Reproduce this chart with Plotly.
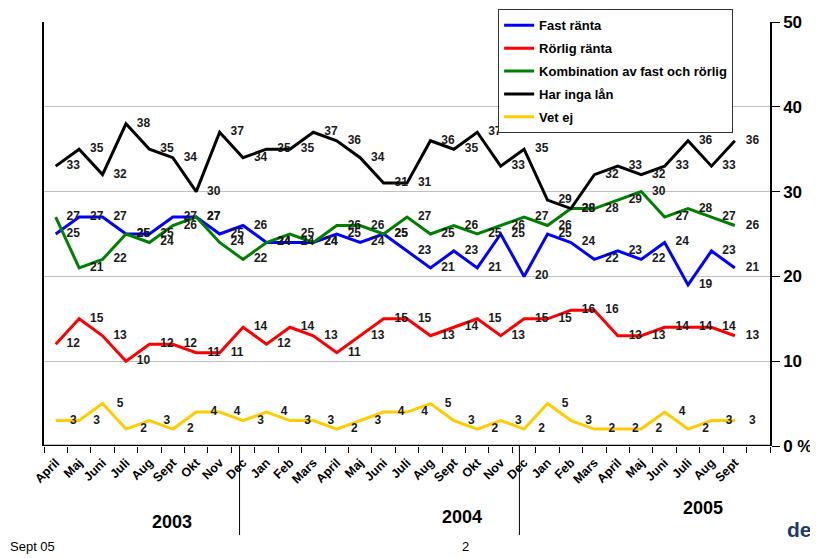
import plotly.graph_objects as go

months = ["April", "Maj", "Juni", "Juli", "Aug", "Sept", "Okt", "Nov", "Dec",
          "Jan", "Feb", "Mars", "April", "Maj", "Juni", "Juli", "Aug", "Sept", "Okt", "Nov", "Dec",
          "Jan", "Feb", "Mars", "April", "Maj", "Juni", "Juli", "Aug", "Sept"]

fast = [25, 27, 27, 25, 25, 27, 27, 25, 26, 24, 24, 24, 25, 24, 25, 23, 21, 23, 21, 25,
        20, 25, 24, 22, 23, 22, 24, 19, 23, 21]
rorlig = [12, 15, 13, 10, 12, 12, 11, 11, 14, 12, 14, 13, 11, 13, 15, 15, 13, 14, 15, 13,
          15, 15, 16, 16, 13, 13, 14, 14, 14, 13]
kombination = [27, 21, 22, 25, 24, 26, 27, 24, 22, 24, 25, 24, 26, 26, 25, 27, 25, 26, 25, 26,
               27, 26, 28, 28, 29, 30, 27, 28, 27, 26]
inga_lan = [33, 35, 32, 38, 35, 34, 30, 37, 34, 35, 35, 37, 36, 34, 31, 31, 36, 35, 37, 33,
            35, 29, 28, 32, 33, 32, 33, 36, 33, 36]
vet_ej = [3, 3, 5, 2, 3, 2, 4, 4, 3, 4, 3, 3, 2, 3, 4, 4, 5, 3, 2, 3,
          2, 5, 3, 2, 2, 2, 4, 2, 3, 3]

series = [
    ("Fast ränta", fast, "#0000ff"),
    ("Rörlig ränta", rorlig, "#ff0000"),
    ("Kombination av fast och rörlig", kombination, "#008000"),
    ("Har inga lån", inga_lan, "#000000"),
    ("Vet ej", vet_ej, "#ffcc00"),
]

years = ["2003", "2004", "2005"]
y_ticks = [0, 10, 20, 30, 40, 50]
y_ticktext = ["0 %", "10", "20", "30", "40", "50"]

FONT = "Arial, Liberation Sans, sans-serif"
x = list(range(len(months)))
label_offset = 0.75

fig = go.Figure()
for i, (name, vals, color) in enumerate(series):
    fig.add_trace(go.Scatter(
        x=x, y=vals, mode="lines", name=name, legendgroup=f"g{i}",
        line=dict(color=color, width=3),
    ))
for i, (name, vals, color) in enumerate(series):
    fig.add_trace(go.Scatter(
        x=[v + label_offset for v in x], y=vals, mode="text",
        text=[str(v) for v in vals], textposition="middle center",
        textfont=dict(family=FONT, size=12, color="#1a1a1a", weight="bold"),
        showlegend=False, hoverinfo="skip", cliponaxis=False,
    ))

# page body has an 8px margin: size the figure to fit the window exactly
fig.update_layout(
    width=810, height=550,
    margin=dict(l=36, r=48, t=14, b=112, autoexpand=False),
    paper_bgcolor="white", plot_bgcolor="white",
    font=dict(family=FONT, color="black"),
    showlegend=True,
    legend=dict(
        x=0.6255, y=1.03, xanchor="left", yanchor="top",
        bgcolor="white", bordercolor="#333333", borderwidth=1,
        font=dict(family=FONT, size=13, color="black", weight="bold"),
        tracegroupgap=3, itemwidth=30,
    ),
    xaxis=dict(
        range=[-0.5, 30.5], tickmode="array", tickvals=x, ticktext=months,
        tickangle=-45, ticks="", showgrid=False, zeroline=False,
        showline=False, automargin=False, ticklabelstandoff=6,
        tickfont=dict(family=FONT, size=12.5, color="black", weight="bold"),
        minor=dict(tick0=-0.5, dtick=1, ticks="outside", ticklen=6, tickcolor="black",
                   tickwidth=1, showgrid=False),
    ),
    yaxis=dict(
        range=[0, 50], side="right", tickmode="array", tickvals=y_ticks, ticktext=y_ticktext,
        ticks="outside", ticklen=8, tickcolor="black", tickwidth=1,
        showline=True, linecolor="black", linewidth=1.5, mirror=True,
        showgrid=True, gridcolor="#c0c0c0", gridwidth=1, zeroline=False, automargin=False,
        tickfont=dict(family=FONT, size=17, color="black", weight="bold"),
    ),
)

# bottom axis line
fig.add_shape(type="line", xref="paper", yref="y", x0=0, x1=1, y0=0, y1=0,
              line=dict(color="black", width=2.5))
# year dividers
for xv in [7.85, 19.8]:
    fig.add_shape(type="line", xref="x", yref="paper", x0=xv, x1=xv, y0=-0.21, y1=0,
                  line=dict(color="black", width=1))

year_pos = [(0.176, -0.179), (0.576, -0.167), (0.908, -0.146)]
for yr, (px, py) in zip(years, year_pos):
    fig.add_annotation(text=yr, xref="paper", yref="paper", x=px, y=py,
                       showarrow=False, xanchor="center", yanchor="middle",
                       font=dict(family=FONT, size=18, color="black", weight="bold"))

fig.add_annotation(text="Sept 05", xref="paper", yref="paper", x=-0.0496, y=-0.238,
                   showarrow=False, xanchor="left", yanchor="middle",
                   font=dict(family=FONT, size=13, color="black"))
fig.add_annotation(text="2", xref="paper", yref="paper", x=0.581, y=-0.238,
                   showarrow=False, xanchor="center", yanchor="middle",
                   font=dict(family=FONT, size=13, color="black"))
fig.add_annotation(text="de", xref="paper", yref="paper", x=1.0207, y=-0.198,
                   showarrow=False, xanchor="left", yanchor="middle",
                   font=dict(family=FONT, size=21, color="#1f3a6e", weight="bold"))

fig.write_html("out.html")
